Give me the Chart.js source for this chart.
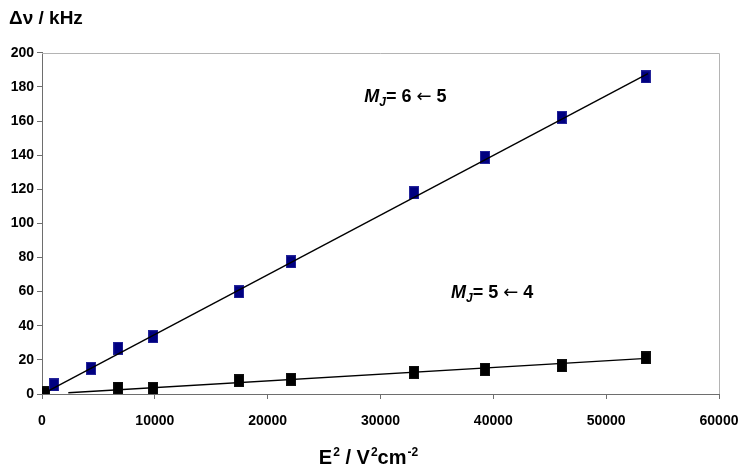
<!DOCTYPE html>
<html>
<head>
<meta charset="utf-8">
<script src="https://cdn.jsdelivr.net/npm/chart.js@4.4.1/dist/chart.umd.min.js"></script>
<style>
  body { margin: 0; background: #fff; }
  #wrap { width: 741px; height: 470px; }
</style>
</head>
<body>
<div id="wrap"><canvas id="stark" width="741" height="470"></canvas></div>
<script>
// E^2 values (V^2 cm^-2) and line shifts (kHz)
const fieldSqUpper = [1064, 4343, 6762, 9864, 17460, 22068, 32970, 39262, 46060, 53505];
const shiftUpper   = [5.3, 15.0, 26.8, 33.6, 59.9, 77.5, 118.0, 138.7, 162.1, 185.9];

const fieldSqLower = [266, 6762, 9864, 17460, 22068, 32970, 39262, 46060, 53505];
const shiftLower   = [0.7, 3.5, 3.2, 7.8, 8.6, 12.7, 14.4, 16.6, 21.2];

// linear fits (end points)
const fitUpperX = [560, 53700];
const fitUpperY = [1.9, 187.8];
const fitLowerX = [2330, 53590];
const fitLowerY = [0.76, 20.9];

const xTicks = [0, 10000, 20000, 30000, 40000, 50000, 60000];
const yTicks = [0, 20, 40, 60, 80, 100, 120, 140, 160, 180, 200];

const toPoints = (xs, ys) => xs.map((x, i) => ({ x: x, y: ys[i] }));

// Excel-like slightly tall square markers
function makeMarker(fill, edge) {
    const c = document.createElement('canvas');
    c.width = 10;
    c.height = 13;
    const g = c.getContext('2d');
    g.fillStyle = edge;
    g.fillRect(0, 0, 10, 13);
    g.fillStyle = fill;
    g.fillRect(1, 1, 8, 11);
    return c;
}
const blueMarker = makeMarker('#000080', '#25259a');
const blackMarker = makeMarker('#000000', '#111111');

const F = "'Liberation Sans', Arial, sans-serif";
const tickFont = { family: F, size: 14, weight: 'bold' };
const axisColor = '#6e6e6e';

// draws pieces of text one after another (for sub/superscripts)
function drawRuns(ctx, x, y, runs) {
    let cx = x;
    runs.forEach(r => {
        ctx.font = r.font;
        ctx.fillText(r.text, cx, y + (r.dy || 0));
        cx += ctx.measureText(r.text).width + (r.gap || 0);
    });
    return cx - x;
}
function runsWidth(ctx, runs) {
    let w = 0;
    runs.forEach(r => { ctx.font = r.font; w += ctx.measureText(r.text).width + (r.gap || 0); });
    return w;
}

const labelRuns = (a, b) => [
    { text: 'M', font: 'italic bold 18px ' + F },
    { text: 'J', font: 'italic bold 12px ' + F, dy: 4 },
    { text: '= ' + a + ' ', font: 'bold 18px ' + F },
    { text: '\u2190', font: '18px "DejaVu Sans", sans-serif' },
    { text: ' ' + b, font: 'bold 18px ' + F }
];

const extras = {
    id: 'extras',
    beforeDatasetsDraw(chart) {
        const { ctx, chartArea: a } = chart;
        // light frame on top and right like the Excel plot area
        ctx.save();
        ctx.strokeStyle = '#b4b4b4';
        ctx.lineWidth = 1;
        ctx.beginPath();
        ctx.moveTo(a.left, Math.round(a.top) + 0.5);
        ctx.lineTo(Math.round(a.right) + 0.5, Math.round(a.top) + 0.5);
        ctx.lineTo(Math.round(a.right) + 0.5, a.bottom);
        ctx.stroke();
        ctx.restore();
    },
    afterDraw(chart) {
        const { ctx, chartArea: a, scales } = chart;
        ctx.save();
        ctx.fillStyle = '#000';
        ctx.textBaseline = 'alphabetic';
        ctx.textAlign = 'left';
        // transition labels
        drawRuns(ctx, scales.x.getPixelForValue(28565), scales.y.getPixelForValue(171.3), labelRuns('6', '5'));
        drawRuns(ctx, scales.x.getPixelForValue(36250), scales.y.getPixelForValue(56.1), labelRuns('5', '4'));
        // x axis title with superscripts
        const big = 'bold 20px ' + F, sup = 'bold 12px ' + F;
        const title = [
            { text: 'E', font: big, gap: 1 },
            { text: '2', font: sup, dy: -8 },
            { text: ' / V', font: big, gap: 1 },
            { text: '2', font: sup, dy: -8 },
            { text: 'cm', font: big, gap: 1 },
            { text: '-2', font: sup, dy: -8 }
        ];
        const w = runsWidth(ctx, title);
        drawRuns(ctx, (a.left + a.right) / 2 - 12 - w / 2, chart.height - 6, title);
        ctx.restore();
    }
};

const ctx = document.getElementById('stark').getContext('2d');
const starkChart = new Chart(ctx, {
    type: 'scatter',
    data: {
        datasets: [
            {
                label: 'fit 6<-5',
                data: toPoints(fitUpperX, fitUpperY),
                showLine: true,
                borderColor: '#000',
                borderWidth: 1.4,
                pointRadius: 0,
                order: 0
            },
            {
                label: 'fit 5<-4',
                data: toPoints(fitLowerX, fitLowerY),
                showLine: true,
                borderColor: '#000',
                borderWidth: 1.4,
                pointRadius: 0,
                order: 0
            },
            {
                label: 'MJ = 6 <- 5',
                data: toPoints(fieldSqUpper, shiftUpper),
                pointStyle: blueMarker,
                order: 1
            },
            {
                label: 'MJ = 5 <- 4',
                data: toPoints(fieldSqLower, shiftLower),
                pointStyle: blackMarker,
                order: 1
            }
        ]
    },
    options: {
        responsive: false,
        animation: false,
        layout: { padding: { left: 9, right: 22, top: 0, bottom: 0 } },
        scales: {
            x: {
                type: 'linear',
                min: 0,
                max: 60000,
                afterBuildTicks: s => { s.ticks = xTicks.map(v => ({ value: v })); },
                afterFit: s => { s.height = 76; s.paddingLeft = 0; s.paddingRight = 0; },
                ticks: { color: '#000', font: tickFont, padding: 14, maxRotation: 0, callback: v => String(v) },
                grid: { drawOnChartArea: false, tickLength: 5, color: axisColor },
                border: { color: axisColor, width: 1 }
            },
            y: {
                min: 0,
                max: 200,
                afterBuildTicks: s => { s.ticks = yTicks.map(v => ({ value: v })); },
                afterFit: s => { s.width = 33; s.paddingTop = 0; s.paddingBottom = 0; },
                ticks: { color: '#000', font: tickFont, padding: 3 },
                grid: { drawOnChartArea: false, tickLength: 5, color: axisColor },
                border: { color: axisColor, width: 1 }
            }
        },
        plugins: {
            legend: { display: false },
            tooltip: { enabled: false },
            title: {
                display: true,
                text: '\u0394\u03bd / kHz',
                align: 'start',
                color: '#000',
                font: { family: F, size: 19, weight: 'bold' },
                padding: { top: 7, bottom: 23 }
            }
        }
    },
    plugins: [extras]
});
</script>
</body>
</html>
